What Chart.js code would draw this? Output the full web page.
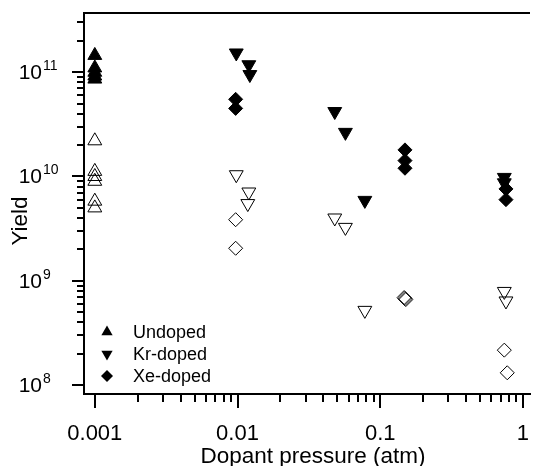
<!DOCTYPE html>
<html>
<head>
<meta charset="utf-8">
<script src="https://cdn.jsdelivr.net/npm/chart.js@4.4.0/dist/chart.umd.min.js"></script>
<style>
	html, body { margin: 0; padding: 0; background: #fff; }
</style>
</head>
<body>
<canvas id="yieldChart" width="539" height="466"></canvas>
<script>
// values: pressure (atm) and yield for each marker set
const undopedFilledP = [0.001, 0.001, 0.001, 0.001, 0.001];
const undopedFilledY = [1.45e11, 1.1e11, 1.0e11, 9.2e10, 8.6e10];
const undopedOpenP = [0.001, 0.001, 0.001, 0.001, 0.001, 0.001];
const undopedOpenY = [2.2e10, 1.12e10, 1.0e10, 9.0e9, 5.8e9, 5.0e9];

const krFilledP = [0.0098, 0.012, 0.0122, 0.048, 0.057, 0.078, 0.74, 0.74];
const krFilledY = [1.53e11, 1.18e11, 9.5e10, 4.2e10, 2.65e10, 5.9e9, 9.8e9, 8.7e9];
const krOpenP = [0.0098, 0.012, 0.0118, 0.048, 0.057, 0.078, 0.74, 0.76];
const krOpenY = [1.04e10, 7.1e9, 5.5e9, 4.0e9, 3.25e9, 5.2e8, 7.9e8, 6.4e8];

const xeFilledP = [0.0097, 0.0097, 0.149, 0.149, 0.149, 0.76, 0.76];
const xeFilledY = [5.5e10, 4.5e10, 1.8e10, 1.42e10, 1.2e10, 7.6e9, 6.0e9];
const xeOpenP = [0.0097, 0.0097, 0.147, 0.149, 0.151, 0.74, 0.776];
const xeOpenY = [3.85e9, 2.05e9, 6.9e8, 6.75e8, 6.6e8, 2.16e8, 1.31e8];

const xTickValues = [0.001, 0.01, 0.1, 1];
const xTickLabels = ["0.001", "0.01", "0.1", "1"];
const yTickExponents = [8, 9, 10, 11];
const legendLabels = ["Undoped", "Kr-doped", "Xe-doped"];

const FONT = '"Liberation Sans", Arial, Helvetica, sans-serif';

const toPoints = (px, py) => px.map((p, i) => ({ x: p, y: py[i] }));

// 1..9 x 10^n marks, starting from the first whole decade inside the range
function logMarks(min, max) {
	let marks = [];
	for (let e = Math.ceil(Math.log10(min)); e <= Math.floor(Math.log10(max)); e++) {
		for (let m = 1; m < 10; m++) {
			let v = m * Math.pow(10, e);
			if (v <= max * 1.0000001) marks.push({ value: v, major: m === 1 });
		}
	}
	return marks;
}

function markerPath(ctx, style, x, y, r, rot) {
	ctx.beginPath();
	if (style === "rectRot") {
		ctx.moveTo(x - r, y);
		ctx.lineTo(x, y - r);
		ctx.lineTo(x + r, y);
		ctx.lineTo(x, y + r);
	} else {
		let a = rot ? Math.PI : 0;
		for (let k = 0; k < 3; k++) {
			let px = x + Math.sin(a) * r, py = y - Math.cos(a) * r;
			k === 0 ? ctx.moveTo(px, py) : ctx.lineTo(px, py);
			a += 2 * Math.PI / 3;
		}
	}
	ctx.closePath();
}

const axisDecor = {
	id: "axisDecor",
	afterDraw(chart) {
		const { ctx, chartArea: area } = chart;
		const xs = chart.scales.x, ys = chart.scales.y;
		ctx.save();
		ctx.strokeStyle = "#000";
		ctx.fillStyle = "#000";

		// top frame line
		ctx.lineWidth = 2;
		ctx.beginPath();
		ctx.moveTo(area.left - 1, area.top);
		ctx.lineTo(area.right, area.top);
		ctx.stroke();

		// tick marks
		ctx.lineWidth = 2;
		logMarks(xs.min, xs.max).forEach((t) => {
			let px = Math.round(xs.getPixelForValue(t.value));
			ctx.beginPath();
			ctx.moveTo(px, area.bottom);
			ctx.lineTo(px, area.bottom + (t.major ? 14 : 8));
			ctx.stroke();
		});
		logMarks(ys.min, ys.max).forEach((t) => {
			let py = Math.round(ys.getPixelForValue(t.value));
			ctx.beginPath();
			ctx.moveTo(area.left, py);
			ctx.lineTo(area.left - (t.major ? 12 : 7), py);
			ctx.stroke();
		});

		// x tick labels
		ctx.font = "22px " + FONT;
		ctx.textAlign = "center";
		ctx.textBaseline = "alphabetic";
		xTickValues.forEach((v, i) => {
			ctx.fillText(xTickLabels[i], xs.getPixelForValue(v), 440);
		});

		// y tick labels, 10 with superscript exponent
		yTickExponents.forEach((e) => {
			let py = ys.getPixelForValue(Math.pow(10, e));
			ctx.font = "21px " + FONT;
			ctx.textAlign = "right";
			ctx.fillText("10", 42, py + 7);
			ctx.font = "14px " + FONT;
			ctx.textAlign = "left";
			ctx.fillText(String(e), 43, py - 2);
		});

		// axis titles
		ctx.font = "22.5px " + FONT;
		ctx.textAlign = "center";
		ctx.fillText("Dopant pressure (atm)", 313, 463);
		ctx.save();
		ctx.translate(27, 221);
		ctx.rotate(-Math.PI / 2);
		ctx.fillText("Yield", 0, 0);
		ctx.restore();

		// legend
		const rows = [332, 354, 376];
		const styles = [["triangle", false, 6.5], ["triangle", true, 6.5], ["rectRot", false, 6]];
		ctx.font = "18px " + FONT;
		ctx.textAlign = "left";
		ctx.lineWidth = 1;
		legendLabels.forEach((label, i) => {
			let [style, rot, r] = styles[i];
			markerPath(ctx, style, 107, rows[i], r, rot);
			ctx.fill();
			ctx.fillText(label, 133, rows[i] + 6);
		});
		ctx.restore();
	},
};

const filled = { backgroundColor: "#000", borderColor: "#000", borderWidth: 1 };
const hollow = { backgroundColor: "rgba(0,0,0,0)", borderColor: "#000", borderWidth: 1 };

new Chart("yieldChart", {
	type: "scatter",
	data: {
		datasets: [
			{ label: "Undoped", data: toPoints(undopedFilledP, undopedFilledY), pointStyle: "triangle", pointRadius: 8, ...filled },
			{ label: "Undoped open", data: toPoints(undopedOpenP, undopedOpenY), pointStyle: "triangle", pointRadius: 8, ...hollow },
			{ label: "Kr-doped", data: toPoints(krFilledP, krFilledY), pointStyle: "triangle", pointRotation: 180, pointRadius: 8, ...filled },
			{ label: "Kr-doped open", data: toPoints(krOpenP, krOpenY), pointStyle: "triangle", pointRotation: 180, pointRadius: 8, ...hollow },
			{ label: "Xe-doped", data: toPoints(xeFilledP, xeFilledY), pointStyle: "rectRot", pointRadius: 7, ...filled },
			{ label: "Xe-doped open", data: toPoints(xeOpenP, xeOpenY), pointStyle: "rectRot", pointRadius: 7, ...hollow },
		],
	},
	options: {
		responsive: false,
		animation: false,
		devicePixelRatio: 1,
		layout: { padding: { top: 13, left: 0, right: 0, bottom: 0 } },
		plugins: { legend: { display: false }, tooltip: { enabled: false } },
		elements: { point: { hoverRadius: 8 } },
		scales: {
			x: {
				type: "logarithmic",
				min: 0.00084,
				max: 1.12,
				grid: { display: false },
				border: { display: true, color: "#000", width: 2 },
				ticks: { display: false },
				afterFit: (scale) => { scale.height = 72; },
			},
			y: {
				type: "logarithmic",
				min: 8.2e7,
				max: 3.7e11,
				grid: { display: false },
				border: { display: true, color: "#000", width: 2 },
				ticks: { display: false },
				afterFit: (scale) => { scale.width = 84; },
			},
		},
	},
	plugins: [axisDecor],
});
</script>
</body>
</html>
